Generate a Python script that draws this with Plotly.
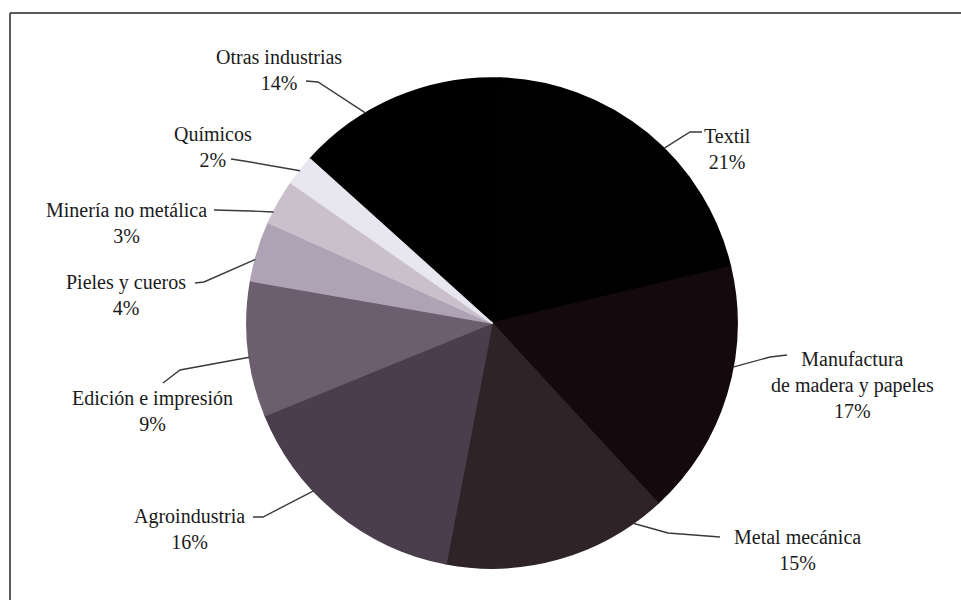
import math
import plotly.graph_objects as go

# Participación por rama industrial (%)
sectores = ["Otras industrias", "Textil", "Manufactura de madera y papeles",
            "Metal mecánica", "Agroindustria", "Edición e impresión",
            "Pieles y cueros", "Minería no metálica", "Químicos"]
porcentajes = [14, 21, 17, 15, 16, 9, 4, 3, 2]
etiquetas = ["Otras industrias<br>14%", "Textil<br>21%",
             "Manufactura<br>de madera y papeles<br>17%",
             "Metal mecánica<br>15%", "Agroindustria<br>16%",
             "Edición e impresión<br>9%", "Pieles y cueros<br>4%",
             "Minería no metálica<br>3%", "Químicos<br>2%"]
colores = ["#000000", "#010101", "#140a0e", "#2f2328", "#4b3e4c",
           "#6c5e6e", "#aea3b4", "#cac0cc", "#e8e6ef"]

W, H = 961, 600
CX, CY, R = 492, 323, 245          # pie centre and radius in pixels
ROT = 312                          # start angle, clockwise from 12 o'clock

# where along each slice the leader line touches (0 = start, 1 = end)
toque = [0.34, 0.57, 0.39, 0.14, 0.63, 0.44, 0.36, 0.26, 0.5]
# label centre, leader-line start and knee (px)
pos_texto = [(279, 70), (727, 149), (852, 385), (797, 550), (189, 529),
             (152, 411), (126, 295), (126, 223), (213, 147)]
inicio = [(306, 81), (702, 132), (787, 355), (720, 537), (253, 517),
          (163, 383), (195, 283), (214, 210), (231, 159)]
codo = [(318, 82), (690, 132), (770, 357), (668, 533), (263, 517),
        (180, 370), (204, 282), (250, 211), (244, 161)]


def px(x, y):
    return x / W, 1 - y / H


fig = go.Figure()
fig.add_trace(go.Pie(
    labels=sectores, values=porcentajes, sort=False, direction="clockwise",
    rotation=ROT, textinfo="none", hoverinfo="label+percent",
    marker=dict(colors=colores, line=dict(color=colores, width=1.6)),
    domain=dict(x=[(CX - R) / W, (CX + R) / W],
                y=[(H - CY - R) / H, (H - CY + R) / H]),
    showlegend=False,
))

total = sum(porcentajes)
acum = 0.0
shapes = []
annotations = []
for i, v in enumerate(porcentajes):
    a0 = ROT + acum / total * 360
    a1 = ROT + (acum + v) / total * 360
    acum += v
    ang = math.radians(a0 + toque[i] * (a1 - a0))
    ex = CX + R * math.sin(ang)
    ey = CY - R * math.cos(ang)
    pts = [inicio[i], codo[i], (ex, ey)]
    path = "M " + " L ".join(f"{px(x, y)[0]:.5f},{px(x, y)[1]:.5f}" for x, y in pts)
    shapes.append(dict(type="path", xref="paper", yref="paper", path=path,
                       line=dict(color="#3a3a3a", width=1.4)))
    tx, ty = px(*pos_texto[i])
    annotations.append(dict(x=tx, y=ty, xref="paper", yref="paper",
                            text=etiquetas[i], showarrow=False,
                            xanchor="center", yanchor="middle", align="center",
                            font=dict(family="Liberation Serif, Times New Roman, serif",
                                      size=20, color="#1a1a1a")))

# frame lines (top and left)
shapes.append(dict(type="line", xref="paper", yref="paper",
                   x0=10 / W, y0=1 - 13 / H, x1=1, y1=1 - 13 / H,
                   line=dict(color="#5a5a5a", width=2)))
shapes.append(dict(type="line", xref="paper", yref="paper",
                   x0=10 / W, y0=1 - 13 / H, x1=10 / W, y1=0,
                   line=dict(color="#5a5a5a", width=2)))

fig.update_layout(width=W, height=H, margin=dict(l=0, r=0, t=0, b=0),
                  paper_bgcolor="#ffffff", plot_bgcolor="#ffffff",
                  shapes=shapes, annotations=annotations)
fig.write_html("out.html")
